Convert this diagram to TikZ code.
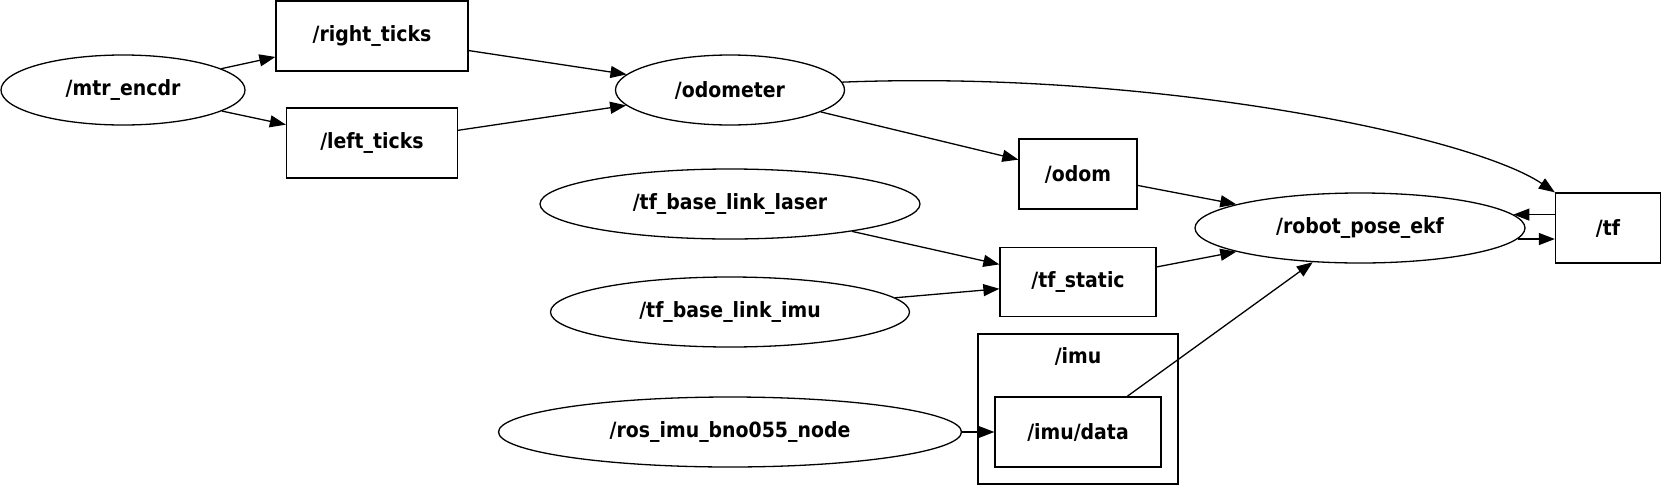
\documentclass[tikz,border=0pt]{standalone}
\usepackage{fontspec}
\setmainfont{DejaVu Sans Condensed}
\usetikzlibrary{arrows.meta,shapes.geometric}

\begin{document}
\begin{tikzpicture}[x=1pt,y=-1pt,line width=1.3pt,
  font=\fontsize{21}{24}\selectfont\bfseries,
  rosnode/.style={draw,ellipse,inner sep=0pt,minimum height=70},
  topic/.style={draw,rectangle,inner sep=0pt,minimum height=70},
  arr/.style={-{Triangle[length=16pt,width=12pt]}}]
\useasboundingbox (0,0) rectangle (1663,485);
% encoder side
\node[rosnode,minimum width=244] (enc) at (123,90){/mtr\_encdr};
\node[topic,minimum width=192] (rticks) at (372,36){/right\_ticks};
\node[topic,minimum width=171] (lticks) at (372,143){/left\_ticks};
\node[rosnode,minimum width=229] (odometer) at (730,90){/odometer};
\node[topic,minimum width=118] (odom) at (1078,174){/odom};
% static transforms
\node[rosnode,minimum width=380] (laser) at (730,204){/tf\_base\_link\_laser};
\node[rosnode,minimum width=359] (imulink) at (730,312){/tf\_base\_link\_imu};
\node[topic,minimum width=156,minimum height=69] (tfstatic) at (1078,282){/tf\_static};
% imu namespace
\node[draw,rectangle,minimum width=200,minimum height=150] (imu) at (1078,409){};
\node (imulabel) at (1078,356){/imu};
\node[topic,minimum width=166] (imudata) at (1078,432){/imu/data};
\node[rosnode,minimum width=463] (bno) at (730,432){/ros\_imu\_bno055\_node};
% filter
\node[rosnode,minimum width=330] (ekf) at (1360,228){/robot\_pose\_ekf};
\node[topic,minimum width=105] (tf) at (1608,228){/tf};

\draw[arr] (enc) -- (rticks);
\draw[arr] (enc) -- (lticks);
\draw[arr] (rticks) -- (odometer);
\draw[arr] (lticks) -- (odometer);
\draw[arr] (odometer) -- (odom);
\draw[arr] (odometer.4) .. controls (1150,70) and (1470,135) .. (tf.north west);
\draw[arr] (laser) -- (tfstatic);
\draw[arr] (imulink) -- (tfstatic);
\draw[arr] (bno) -- (imudata);
\draw[arr] (odom) -- (ekf);
\draw[arr] (tfstatic) -- (ekf);
\draw[arr] (imudata) -- (ekf);
\draw[arr] (tf.west |- ekf.5) -- (ekf.5);
\draw[arr] (ekf.-4) -- (tf.west |- ekf.-4);
\end{tikzpicture}
\end{document}
